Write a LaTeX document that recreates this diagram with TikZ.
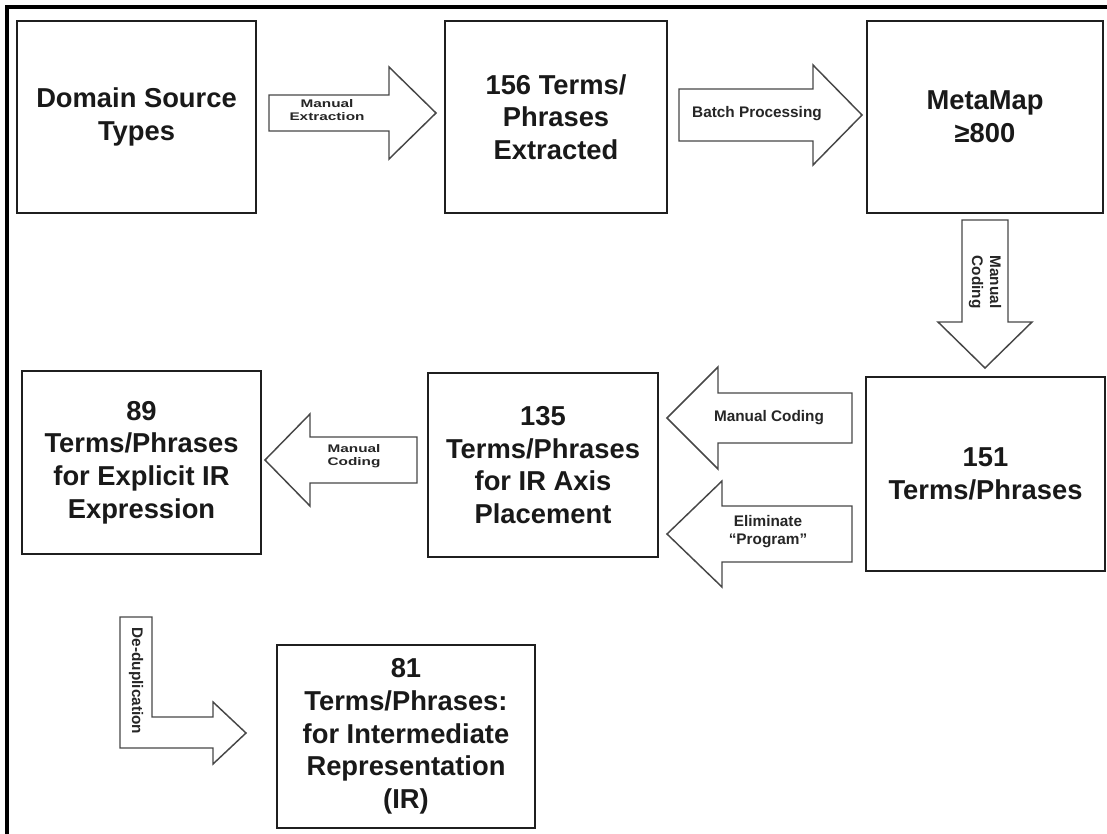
\documentclass[tikz,border=0pt]{standalone}
\usepackage{fontspec}
\setmainfont{Liberation Sans}
\begin{document}
\begin{tikzpicture}[x=0.75pt,y=-0.75pt,
  stage/.style 2 args={draw=black!88, line width=1.5pt, fill=white,
    minimum width=#1*0.75pt, minimum height=#2*0.75pt, inner sep=0pt,
    align=center, text=black!90, font=\bfseries\fontsize{20.5}{24.5}\selectfont},
  blockarrow/.style={draw=black!72, line width=1.1pt, fill=white, line join=miter},
  tag/.style={font=\bfseries\fontsize{11.5}{13.5}\selectfont, text=black!85,
    align=center, inner sep=0pt},
]
\useasboundingbox (0,0) rectangle (1107,833);
\fill[white] (0,0) rectangle (1107,833);
% outer frame (left and top edges)
\draw[line width=2.3pt] (7,836) -- (7,7) -- (1110,7);

% process stages
\node[stage={239}{192}] (src)  at (136.5,117) {Domain Source\\Types};
\node[stage={222}{192}] (ext)  at (556,117)   {156 Terms/\\Phrases\\Extracted};
\node[stage={236}{192}] (mm)   at (985,117)   {MetaMap\\≥800};
\node[stage={239}{194}] (t151) at (985.5,474) {151\\Terms/Phrases};
\node[stage={230}{184}] (t135) at (543,465)   {135\\Terms/Phrases\\for IR Axis\\Placement};
\node[stage={239}{183}] (t89)  at (141.5,462.5) {89\\Terms/Phrases\\for Explicit IR\\Expression};
\node[stage={258}{183}] (t81)  at (406,736.5) {81\\Terms/Phrases:\\for Intermediate\\Representation\\(IR)};

% block arrows between stages
\draw[blockarrow] (269,95) -- (389,95) -- (389,67) -- (436,113) -- (389,159) -- (389,131) -- (269,131) -- cycle;
\draw[blockarrow] (679,89) -- (813,89) -- (813,65) -- (862,115) -- (813,165) -- (813,141) -- (679,141) -- cycle;
\draw[blockarrow] (962,220) -- (962,322) -- (938,322) -- (985,368) -- (1032,322) -- (1008,322) -- (1008,220) -- cycle;
\draw[blockarrow] (852,393) -- (718,393) -- (718,367) -- (667,418) -- (718,469) -- (718,443) -- (852,443) -- cycle;
\draw[blockarrow] (852,506) -- (722,506) -- (722,481) -- (667,534) -- (722,587) -- (722,562) -- (852,562) -- cycle;
\draw[blockarrow] (417,437) -- (310,437) -- (310,414) -- (265,460) -- (310,506) -- (310,483) -- (417,483) -- cycle;
\draw[blockarrow] (120,617) -- (152,617) -- (152,717) -- (213,717) -- (213,702) -- (246,733) -- (213,764) -- (213,748) -- (120,748) -- cycle;

% arrow labels
\node[tag] (lextract) at (327,111) {\scalebox{1}[0.72]{\begin{tabular}{@{}c@{}}Manual\\Extraction\end{tabular}}};
\node[tag] (lbatch)   at (757,114) {Batch Processing};
\node[tag, rotate=-90] (lcode1) at (985,282) {Manual\\Coding};
\node[tag] (lcode2)   at (769,418) {Manual Coding};
\node[tag] (lelim)    at (768,532) {Eliminate\\“Program”};
\node[tag] (lcode3)   at (354,456) {\scalebox{1}[0.72]{\begin{tabular}{@{}c@{}}Manual\\Coding\end{tabular}}};
\node[tag, rotate=-90] (ldedup) at (136,681) {De-duplication};
\end{tikzpicture}
\end{document}
